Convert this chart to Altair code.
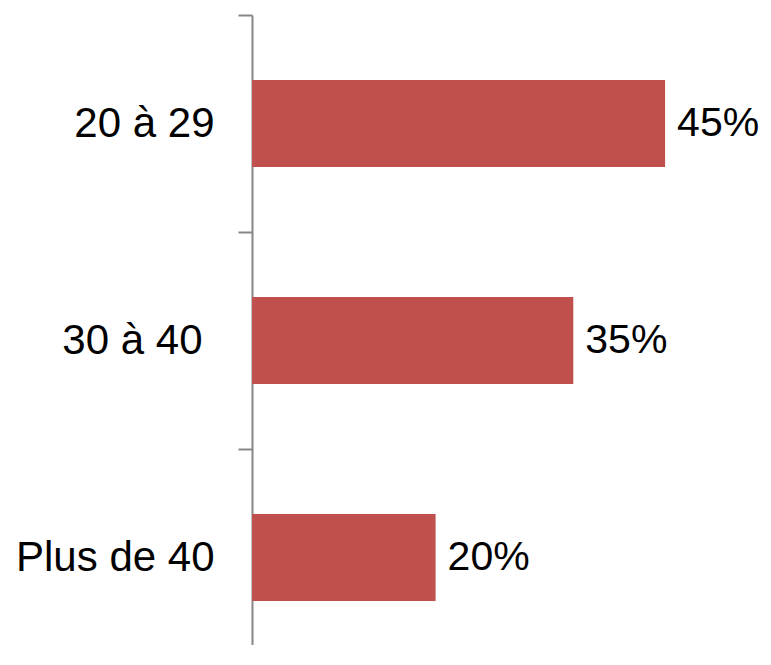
import altair as alt
import pandas as pd

categories = ["20 à 29", "30 à 40", "Plus de 40"]
values = [0.45, 0.35, 0.20]

df = pd.DataFrame({"cat": categories, "val": values})

FONT = "Liberation Sans"

y_enc = alt.Y(
    "cat:N",
    sort=categories,
    scale=alt.Scale(paddingInner=0, paddingOuter=0, range=[0, 651]),
    axis=alt.Axis(
        title=None,
        tickBand="extent",
        domainColor="#868686",
        domainWidth=2,
        tickColor="#868686",
        tickWidth=2,
        tickSize=14,
        labelPadding={"condition": {"test": "datum.value == '30 à 40'", "value": 36}, "value": 24},
        labelFont=FONT,
        labelFontSize=42,
        labelColor="#000000",
        labelLimit=400,
    ),
)
x_enc = alt.X("val:Q", scale=alt.Scale(domain=[0, 0.5]), axis=None)

bars = alt.Chart(df).mark_bar(color="#C0504D", size=87).encode(x=x_enc, y=y_enc)
labels = alt.Chart(df).mark_text(
    align="left", baseline="middle", dx=12, font=FONT, fontSize=41, color="#000000"
).encode(x=x_enc, y=y_enc, text=alt.Text("val:Q", format=".0%"))

chart = (
    alt.layer(bars, labels)
    .properties(
        width=459,
        height=630,
        autosize=alt.AutoSizeParams(type="none"),
        padding={"left": 244, "top": 7, "right": 52, "bottom": 0},
    )
    .configure_view(stroke=None)
)

chart.save("out.html", embed_options={"renderer": "svg", "actions": False})
